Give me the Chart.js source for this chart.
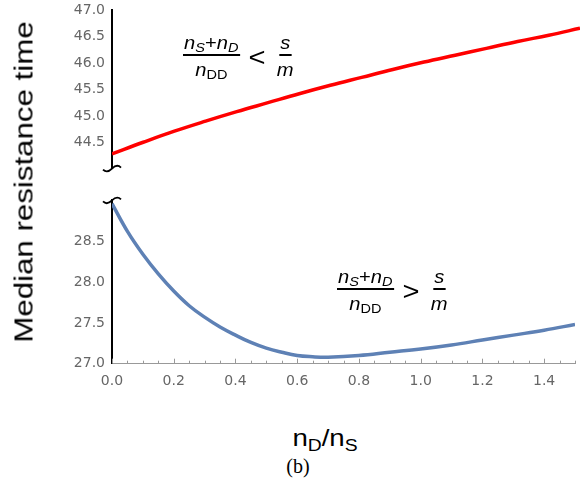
<!DOCTYPE html>
<html>
<head>
<meta charset="utf-8">
<script src="https://cdn.jsdelivr.net/npm/chart.js@4.4.1/dist/chart.umd.min.js"></script>
<style>
  body { margin: 0; background: #fff; }
  #wrap { position: relative; width: 584px; height: 496px; overflow: hidden;
          font-family: "Liberation Sans", Arial, sans-serif; color: #000; }
  #topBox { position: absolute; left: 0; top: -5px; width: 584px; height: 189px; }
  #botBox { position: absolute; left: 0; top: 185px; width: 584px; height: 227px; }
  .ytitle { position: absolute; left: 24px; top: 182px; white-space: nowrap; font-size: 25px;
            transform: translate(-50%, -50%) rotate(-90deg) scaleX(1.25); }
  .xtitle { position: absolute; left: 325px; top: 438px; white-space: nowrap; font-size: 24px;
            transform: translate(-50%, -50%) scaleX(1.15); }
  .xtitle sub { font-size: 70%; vertical-align: -5px; line-height: 0; }
  .caption { position: absolute; left: 298px; top: 466px; font-size: 20px;
             font-family: "Liberation Serif", "DejaVu Serif", serif;
             transform: translate(-50%, -50%); }
  .row { position: absolute; display: flex; align-items: center; font-size: 18px;
         transform-origin: left center; transform: scaleX(1.12); }
  .frac { display: flex; flex-direction: column; align-items: center; }
  .num { border-bottom: 2px solid #000; padding: 0 1px 1px; line-height: 20px; }
  .den { line-height: 24px; padding-top: 2px; }
  .rel { font-size: 26px; margin: 0 10px 0 8px; }
  .row sub { font-size: 72%; vertical-align: -3px; line-height: 0; }
</style>
</head>
<body>
<div id="wrap">
  <div id="topBox"><canvas id="topChart"></canvas></div>
  <div id="botBox"><canvas id="botChart"></canvas></div>
  <div class="ytitle">Median resistance time</div>
  <div class="xtitle">n<sub>D</sub>/n<sub>S</sub></div>
  <div class="caption">(b)</div>
  <div class="row" style="left:183px; top:33px;">
    <div class="frac">
      <div class="num"><i>n</i><sub><i>S</i></sub>+<i>n</i><sub><i>D</i></sub></div>
      <div class="den"><i>n</i><sub>DD</sub></div>
    </div>
    <div class="rel">&lt;</div>
    <div class="frac">
      <div class="num"><i>s</i></div>
      <div class="den"><i>m</i></div>
    </div>
  </div>
  <div class="row" style="left:337px; top:267px;">
    <div class="frac">
      <div class="num"><i>n</i><sub><i>S</i></sub>+<i>n</i><sub><i>D</i></sub></div>
      <div class="den"><i>n</i><sub>DD</sub></div>
    </div>
    <div class="rel">&gt;</div>
    <div class="frac">
      <div class="num"><i>s</i></div>
      <div class="den"><i>m</i></div>
    </div>
  </div>
</div>
<script>
// ratio nD/nS
const xRed = [0, 0.1, 0.2, 0.3, 0.4, 0.5, 0.6, 0.7, 0.8, 0.9, 1.0, 1.1, 1.2, 1.3, 1.4, 1.5];
const redValues = [44.28, 44.50, 44.71, 44.90, 45.08, 45.25, 45.42, 45.58, 45.73, 45.88,
                   46.02, 46.15, 46.28, 46.41, 46.53, 46.66];

const xBlue = [0, 0.05, 0.1, 0.15, 0.2, 0.25, 0.3, 0.35, 0.4, 0.45, 0.5, 0.55, 0.6, 0.65,
               0.7, 0.8, 0.9, 1.0, 1.1, 1.2, 1.3, 1.4, 1.5];
const blueValues = [28.96, 28.62, 28.34, 28.10, 27.89, 27.71, 27.57, 27.45, 27.35, 27.26,
                    27.19, 27.14, 27.10, 27.085, 27.08, 27.10, 27.14, 27.18, 27.23, 27.29,
                    27.35, 27.41, 27.48];

const xRange = [0, 1.5];
const topRange = [44, 47];
const bottomRange = [27, 29];

const tickFont = { family: 'DejaVu Sans', size: 14 };
const tickColor = '#666';

// little squiggle where the y axis is broken
const breakMark = {
  id: 'breakMark',
  afterDraw(chart, args, opts) {
    const a = chart.chartArea;
    const cx = a.left;
    const cy = opts.edge === 'bottom' ? a.bottom : a.top;
    const ctx = chart.ctx;
    ctx.save();
    ctx.strokeStyle = '#000';
    ctx.lineWidth = 1.8;
    ctx.beginPath();
    ctx.moveTo(cx - 9, cy + 1);
    ctx.bezierCurveTo(cx - 6, cy + 4, cx - 3, cy + 3, cx, cy);
    ctx.bezierCurveTo(cx + 3, cy - 3, cx + 6, cy - 4, cx + 9, cy - 1);
    ctx.stroke();
    ctx.restore();
  }
};

// inward tick marks on the x axis
const innerTicks = {
  id: 'innerTicks',
  afterDraw(chart) {
    const s = chart.scales.x;
    const ctx = chart.ctx;
    const y = chart.chartArea.bottom;
    ctx.save();
    ctx.strokeStyle = '#999';
    ctx.lineWidth = 1;
    s.ticks.forEach(t => {
      const r = t.value / 0.2;
      const major = Math.abs(r - Math.round(r)) < 1e-6;
      const px = Math.round(s.getPixelForValue(t.value)) + 0.5;
      ctx.beginPath();
      ctx.moveTo(px, y);
      ctx.lineTo(px, y - (major ? 5 : 3));
      ctx.stroke();
    });
    ctx.restore();
  }
};

function yAxis(range, hide) {
  return {
    type: 'linear',
    min: range[0],
    max: range[1],
    afterFit(scale) { scale.width = 112; },
    grid: { display: false, drawTicks: false },
    border: { display: true, color: '#000', width: 2 },
    ticks: {
      stepSize: 0.5,
      padding: 7,
      color: tickColor,
      font: tickFont,
      callback: v => (Math.abs(v - hide) < 1e-6 ? '' : v.toFixed(1))
    }
  };
}

new Chart(document.getElementById('topChart'), {
  type: 'line',
  data: {
    datasets: [{
      data: xRed.map((x, i) => ({ x: x, y: redValues[i] })),
      borderColor: '#ff0000',
      borderWidth: 3.5,
      pointRadius: 0,
      tension: 0.4,
      fill: false
    }]
  },
  plugins: [breakMark],
  options: {
    responsive: true,
    maintainAspectRatio: false,
    animation: false,
    layout: { padding: { top: 10, bottom: 11.5, left: 0, right: 4 } },
    plugins: { legend: { display: false }, tooltip: { enabled: false }, breakMark: { edge: 'bottom' } },
    scales: {
      x: { type: 'linear', min: xRange[0], max: xRange[1], display: false },
      y: yAxis(topRange, topRange[0])
    }
  }
});

new Chart(document.getElementById('botChart'), {
  type: 'line',
  data: {
    datasets: [{
      data: xBlue.map((x, i) => ({ x: x, y: blueValues[i] })),
      borderColor: '#5e81b5',
      borderWidth: 3.5,
      pointRadius: 0,
      tension: 0.4,
      fill: false
    }]
  },
  plugins: [breakMark, innerTicks],
  options: {
    responsive: true,
    maintainAspectRatio: false,
    animation: false,
    layout: { padding: { top: 13.7, bottom: 13.5, left: 0, right: 4 } },
    plugins: { legend: { display: false }, tooltip: { enabled: false }, breakMark: { edge: 'top' } },
    scales: {
      x: {
        type: 'linear',
        min: xRange[0],
        max: xRange[1],
        grid: { display: false, drawTicks: false },
        border: { display: true, color: '#999', width: 1 },
        ticks: {
          stepSize: 0.05,
          autoSkip: false,
          maxRotation: 0,
          padding: 9,
          color: tickColor,
          font: tickFont,
          callback: v => {
            const r = v / 0.2;
            return Math.abs(r - Math.round(r)) < 1e-6 ? v.toFixed(1) : '';
          }
        }
      },
      y: yAxis(bottomRange, bottomRange[1])
    }
  }
});
</script>
</body>
</html>
